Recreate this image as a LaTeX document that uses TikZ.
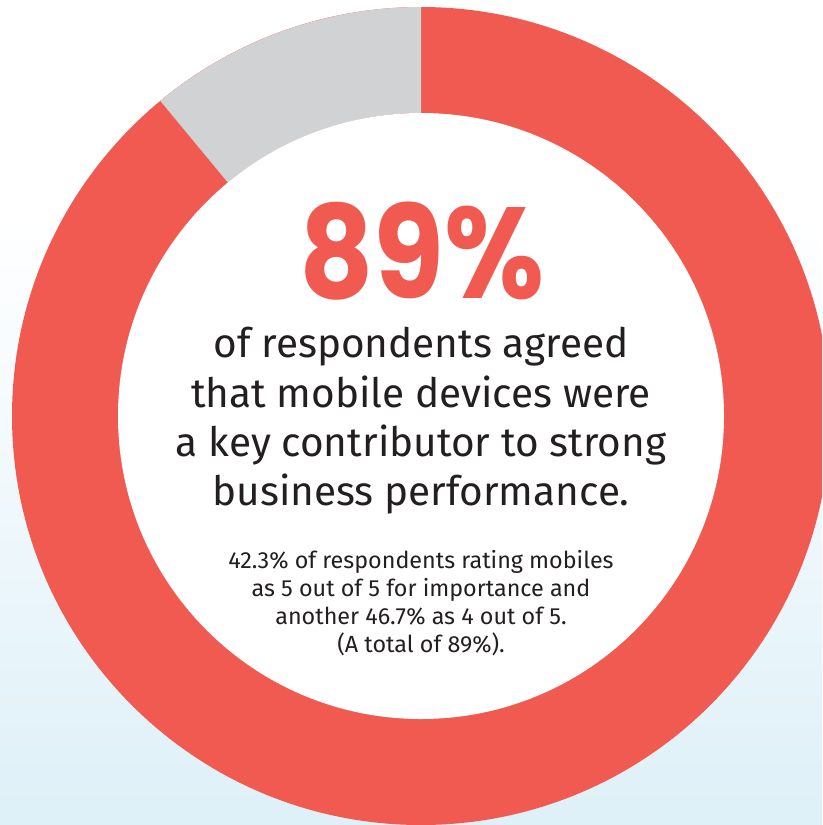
\documentclass[tikz,border=0pt]{standalone}
\usepackage{fontspec}
\setmainfont{Fira Sans}
\newfontfamily\bodyfont{Fira Sans}
\newfontfamily\bigfont{Poppins}
\usepackage{xcolor}
\usetikzlibrary{calc}
\definecolor{ringred}{RGB}{241,90,80}
\definecolor{ringgray}{RGB}{209,210,212}
\definecolor{inktext}{RGB}{35,31,32}
\definecolor{bgblue}{RGB}{222,240,248}

\begin{document}
\begin{tikzpicture}[x=0.75pt,y=0.75pt,yscale=-1,xscale=1,
  bodyline/.style={anchor=base,inner sep=0pt,text height=22pt,text depth=6pt,text=inktext,font=\bodyfont\fontsize{30.4}{36}\selectfont},
  noteline/.style={anchor=base,inner sep=0pt,text height=13pt,text depth=3.5pt,text=inktext,font=\bodyfont\fontsize{17.5}{20}\selectfont}]
\useasboundingbox (0,0) rectangle (822,825);
\clip (0,0) rectangle (822,825);

%Background
\fill [white] (0,0) rectangle (822,825);
\shade [top color=white,bottom color=bgblue] (0,220) rectangle (822,825);

%Shape: Ring
\fill [ringred] (421,416) circle [radius=409];
%Shape: Gray segment
\fill [ringgray] (421,416) ++(270:409) arc [start angle=270,end angle=230.4,radius=409] -- ($(421,416)+(230.4:303)$) arc [start angle=230.4,end angle=270,radius=303] -- cycle;
%Shape: Inner disc
\fill [white] (421,416) circle [radius=303];

% Text Node
\node (big) [anchor=base,inner sep=0pt,text height=68pt,text depth=0pt,text=ringred,font=\bigfont\bfseries\fontsize{97}{97}\selectfont] at (422,298) {\scalebox{0.89}[1]{89\%}};
% Text Node
\node (l1) [bodyline] at (421,357) {of respondents agreed};
\node (l2) [bodyline] at (421,407) {that mobile devices were};
\node (l3) [bodyline] at (421,456) {a key contributor to strong};
\node (l4) [bodyline] at (421,505) {business performance.};
% Text Node
\node (n1) [noteline] at (421,568) {42.3\% of respondents rating mobiles};
\node (n2) [noteline] at (421,596) {as 5 out of 5 for importance and};
\node (n3) [noteline] at (421,624) {another 46.7\% as 4 out of 5.};
\node (n4) [noteline] at (421,652) {(A total of 89\%).};

\end{tikzpicture}
\end{document}
